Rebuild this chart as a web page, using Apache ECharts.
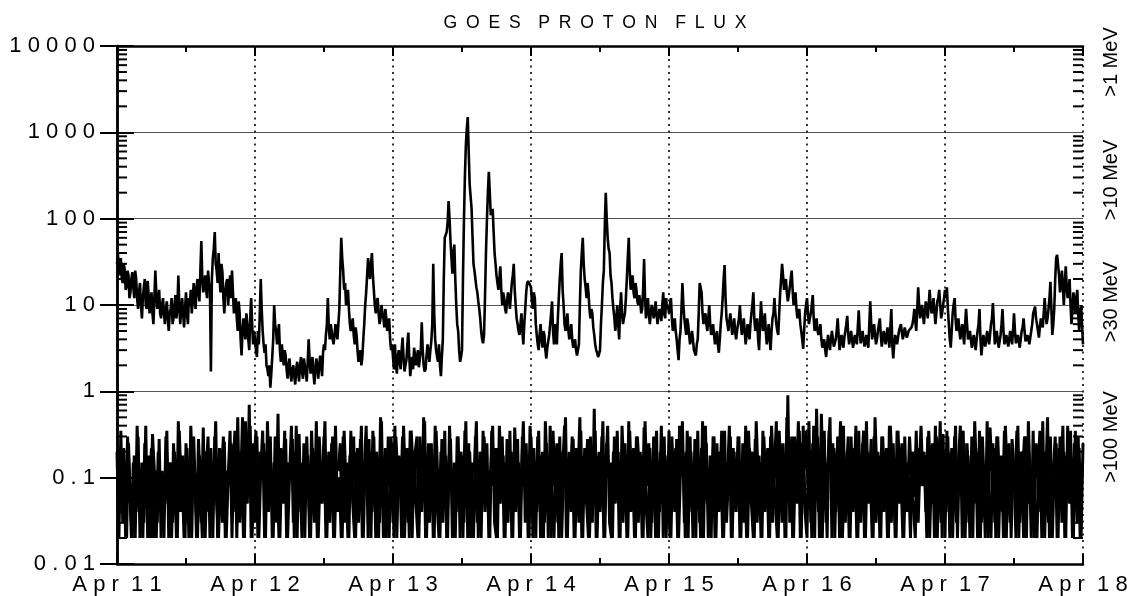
<!DOCTYPE html>
<html>
<head>
<meta charset="utf-8">
<script src="https://cdn.jsdelivr.net/npm/echarts@6/dist/echarts.min.js"></script>
<style>
html,body{margin:0;padding:0;background:#fff;}
#chart{width:1131px;height:596px;}
</style>
</head>
<body>
<div id="chart"></div>
<script>
// ---- data (time step = 20 min, starting Apr 11 00:00; "B" arrays sit half a step later) ----
const stepHours = 1 / 3;
const dayLabels = ["A p r  1 1", "A p r  1 2", "A p r  1 3", "A p r  1 4", "A p r  1 5", "A p r  1 6", "A p r  1 7", "A p r  1 8"];
const yTickLabels = {"-2": "0 . 0 1", "-1": "0 . 1", "0": "1", "1": "1 0", "2": "1 0 0", "3": "1 0 0 0", "4": "1 0 0 0 0"};
const channelLabels = [">1 MeV", ">10 MeV", ">30 MeV", ">100 MeV"];
const titleText = "G\u2002O\u2002E\u2002S\u2002\u2002P\u2002R\u2002O\u2002T\u2002O\u2002N\u2002\u2002F\u2002L\u2002U\u2002X";

const upperApr11 = [30,22,35,18,26,16,22,14,24,12,20,9,18,7,16,10,19,8,14,6,25,9,15,7,12,6,11,5,9,6,10,7,22,6,12,5.5,14,6,10,8,18,9,20,11,55,14,22,12,18,1.7,35,70,25,40,14,24,8,18,10,22,25,8,12,5,8,2.6,7,4,6,3,12,3.5];
const upperApr12 = [4,2.5,3.5,20,5,2.8,2,1.5,1.1,2.5,10,5,4.5,3,3.5,2,2.6,1.4,2.4,1.3,2,1.2,2.2,1.3,2.5,1.4,2,1.3,4,1.6,2.5,1.2,2.4,1.4,2.6,1.5,3.5,4.5,12,4,5,3.5,6,4,9,60,25,18,12,9,5,7,3.5,4.5,2.2,3,2.5,6,14,35,20,40,15,8,12,6,10,7,9,5,7,3];
const upperApr13 = [2.5,3.5,1.6,3,1.8,4.2,1.7,2.3,4.8,1.5,2.5,3.2,2,3,2.4,6.3,2,1.8,3.5,2.2,3.8,30,4,2.5,3.5,1.5,4,60,70,160,55,23,50,10,5,2.2,3,90,700,1500,250,130,30,20,14,9,5,3.6,12,95,350,110,130,40,22,15,28,10,12,8,14,9,18,30,10,6,4.5,8,3.5,9,18,20];
const upperApr14 = [16,9,12,4.5,3,6,3.2,4.5,2.4,3.8,6,11,3.5,4.5,7,20,40,10,5,8,4,6,3.2,4,2.6,3.5,25,60,20,12,14,7,8,4.5,3,2.5,3,10,25,200,60,40,18,9,5,10,4,14,6,8,20,60,15,22,12,15,10,11,9,34,7,12,6,10,7,11,6,9,6.5,14,7,9];
const upperApr15 = [8,12,5,7,4,2.3,5,18,7,4.5,6,3.5,5,3,2.6,4,18,14,6,8,5,10,4.5,6,3.5,5,2.8,6,12,29,7,5,8,4.5,7,4,6,10,4.5,7,3.5,6,4,8,14,5,7,3,11,5,8,3.5,6,3,7,12,6,4.5,14,30,15,20,11,16,25,10,14,7,9,5,3.1,8];
const upperApr16 = [12,6,8,13,5,7,4.5,6,3.2,4,2.5,4.5,3,5,3.3,4,7,3,4.5,3.2,5,7.5,3.5,5,3.2,4.5,3.5,8.7,3.6,5,3.3,4.5,3.2,11,4,6,3.5,5,7,3.3,5,3.5,5.5,3.2,9,2.4,4.5,3.5,5,6,4,5.5,4.2,5,4.8,6,9,5,16,7,10,6,11,7,15,8,12,6,11,15,7,10];
const upperApr17 = [15,16,6,3.2,8,12,5,7,4,6,3.5,9,4,5,3.2,4.5,3,5,9,2.6,4.5,3.3,5,3.5,6,10.5,3.5,5,3.2,4.5,9,3.5,4.5,3.3,5,3.5,8,3.6,4.5,3.2,5,7,3.8,4.5,3.5,5,8,9.6,6,4.2,7,5.5,12,6,9,18.6,4.5,9,35,40,14,25,10,28,12,20,6,14,8,15,5,10,3.5];

const upperBApr11 = [40,28,20,30,15,25,12,20,16,25,12,14,10,12,20,9,13,11,8,12,14,11,8,10,8,9,7,8,12,7,13,9,10,9,8,9,8,12,15,11,12,16,14,25,20,18,15,25,15,20,45,30,18,20,30,12,14,20,15,12,14,10,7,11,4,5,5,8,4,7,6,5];
const upperBApr12 = [3,5,8,9,3.5,3.5,1.8,2,1.6,4,6,3.5,6,2.2,2.5,3,1.8,2,1.6,1.8,1.5,1.8,1.6,2,1.7,2.4,1.6,2.2,2.3,2,1.6,1.8,1.9,2,2,2.8,3,6,5.5,6,4,4.5,5,6,25,35,15,10,15,6,6,4.5,5.5,3,2.5,2,4,10,22,25,30,22,10,11,8,7,8,5.5,7,6,4,3.5];
const upperBApr13 = [1.8,2.2,2.5,2.2,3,2.5,2,3.5,2.5,2,1.8,2.6,2.4,1.9,3,3,1.7,2.6,2.8,3,6,8,3,2.2,2,2.5,20,65,90,100,35,40,20,6,3,2.5,20,300,1100,600,180,60,25,16,11,7,4,4.5,40,200,200,120,70,30,18,20,15,14,9,11,12,13,22,15,7,5,6,5,6,14,19,17];
const upperBApr14 = [11,14,6,3.5,4.5,4,5,3,3.2,4.5,8,5,6,3.5,12,30,15,6,6.5,5,5,4,3.5,3,3,10,40,30,16,18,9,9,5.5,3.5,2.8,2.7,6,18,80,100,45,22,12,7,7,6,9,8,7,12,35,25,18,14,18,11,13,8,15,12,9,8,8,9,8,8,7.5,8,10,8,12,10];
const upperBApr15 = [10,7,6,5,3,4,9,10,5.5,7,4.5,4,4,2.8,3.5,8,16,8,7,6,7,6,5,4.5,4,3.5,4,8,20,12,6,6.5,6,5.5,5,5,7,6,5.5,5,4.5,5,6,10,7,6,4,6,7,6,5,4.5,4,5,8,8,5,8,20,22,18,14,13,20,15,12,9,8,6,4,5,10];
const upperBApr16 = [8,7,10,7,6,5,5,4,3.5,3,3.5,3.5,4,4,3.6,5,4.5,3.8,3.6,4.2,6,4.5,4.2,4,3.8,4,5.5,5,4.2,4,3.8,3.6,6,6,5,4.5,4,6,4.5,4,4.2,4.5,4,5.5,3.5,3.5,4,4.2,5.5,4.8,4.6,4.8,4.5,4.8,5.5,7,6.5,9,10,8,8,8.5,9,10,10,9,8.5,8,12,10,8,12];
const upperBApr17 = [12,9,4,5,10,7,6,5,5,4.5,6,6,4.5,4,3.8,3.6,4,6,4,3.5,3.8,4,4.2,4.5,7,6,4,4,3.8,6,5,4,3.8,4,4.2,5,5,4,3.8,4,5.5,5,4,4,4.2,6,8,7,5,5.5,6,8,8,7,12,9,6,20,38,22,18,16,18,16,15,10,9,11,12,8,7,6];

const lowerApr11 = [0.2,0.02,0.35,0.03,0.12,0.02,0.25,0.05,0.02,0.18,0.04,0.3,0.02,0.15,0.03,0.4,0.02,0.08,0.22,0.02,0.12,0.03,0.28,0.02,0.1,0.05,0.35,0.02,0.15,0.03,0.2,0.02,0.45,0.04,0.1,0.02,0.25,0.03,0.12,0.02,0.3,0.06,0.02,0.18,0.03,0.38,0.02,0.14,0.04,0.22,0.02,0.3,0.05,0.02,0.16,0.03,0.26,0.02,0.1,0.35,0.02,0.2,0.04,0.5,0.03,0.15,0.02,0.45,0.05,0.7,0.02,0.25];
const lowerApr12 = [0.03,0.3,0.02,0.12,0.35,0.02,0.2,0.04,0.3,0.02,0.15,0.03,0.55,0.02,0.18,0.05,0.28,0.02,0.1,0.4,0.03,0.2,0.02,0.32,0.04,0.15,0.02,0.3,0.06,0.02,0.22,0.03,0.45,0.02,0.12,0.05,0.3,0.02,0.18,0.03,0.25,0.02,0.4,0.04,0.1,0.02,0.3,0.03,0.15,0.02,0.35,0.05,0.02,0.2,0.03,0.28,0.02,0.12,0.4,0.02,0.2,0.04,0.3,0.02,0.15,0.03,0.45,0.02,0.22,0.05,0.02,0.3];
const lowerApr13 = [0.03,0.4,0.02,0.18,0.06,0.3,0.02,0.12,0.03,0.35,0.02,0.2,0.05,0.02,0.3,0.04,0.5,0.02,0.15,0.03,0.25,0.02,0.4,0.05,0.02,0.2,0.03,0.35,0.02,0.1,0.28,0.02,0.15,0.04,0.3,0.02,0.18,0.03,0.45,0.02,0.2,0.05,0.02,0.3,0.03,0.14,0.02,0.35,0.04,0.25,0.02,0.12,0.4,0.03,0.02,0.22,0.05,0.3,0.02,0.15,0.03,0.35,0.02,0.2,0.04,0.28,0.02,0.1,0.45,0.03,0.18,0.02];
const lowerApr14 = [0.3,0.02,0.15,0.04,0.35,0.02,0.2,0.03,0.25,0.02,0.4,0.05,0.02,0.18,0.03,0.3,0.02,0.12,0.5,0.02,0.2,0.04,0.28,0.02,0.15,0.03,0.35,0.02,0.22,0.05,0.02,0.3,0.03,0.63,0.02,0.18,0.04,0.3,0.02,0.12,0.4,0.03,0.02,0.2,0.05,0.35,0.02,0.15,0.03,0.25,0.02,0.45,0.04,0.15,0.02,0.3,0.03,0.2,0.02,0.38,0.05,0.02,0.22,0.03,0.3,0.02,0.14,0.04,0.4,0.02,0.18,0.03];
const lowerApr15 = [0.35,0.02,0.2,0.04,0.28,0.02,0.12,0.45,0.03,0.2,0.02,0.3,0.04,0.15,0.02,0.35,0.03,0.22,0.02,0.4,0.05,0.12,0.02,0.3,0.02,0.25,0.04,0.18,0.02,0.35,0.03,0.1,0.3,0.02,0.2,0.04,0.3,0.02,0.15,0.03,0.4,0.02,0.22,0.05,0.02,0.28,0.03,0.18,0.02,0.35,0.04,0.2,0.02,0.3,0.03,0.12,0.45,0.02,0.25,0.03,0.15,0.02,0.9,0.03,0.3,0.02,0.2,0.05,0.35,0.02,0.4,0.04];
const lowerApr16 = [0.02,0.45,0.03,0.25,0.02,0.63,0.04,0.2,0.02,0.35,0.03,0.15,0.5,0.02,0.22,0.04,0.3,0.02,0.12,0.4,0.03,0.2,0.02,0.3,0.04,0.18,0.02,0.35,0.03,0.25,0.02,0.45,0.05,0.12,0.02,0.3,0.03,0.2,0.02,0.3,0.04,0.15,0.02,0.4,0.03,0.25,0.02,0.35,0.05,0.12,0.02,0.3,0.04,0.1,0.02,0.2,0.06,0.35,0.03,0.15,0.08,0.2,0.04,0.3,0.02,0.15,0.05,0.4,0.02,0.22,0.03,0.32];
const lowerApr17 = [0.02,0.35,0.04,0.2,0.02,0.3,0.03,0.15,0.4,0.02,0.25,0.03,0.18,0.02,0.3,0.05,0.22,0.02,0.35,0.03,0.12,0.02,0.45,0.04,0.02,0.25,0.03,0.3,0.02,0.15,0.04,0.35,0.02,0.2,0.03,0.28,0.12,0.02,0.4,0.03,0.2,0.02,0.3,0.05,0.15,0.02,0.35,0.03,0.02,0.22,0.04,0.45,0.02,0.18,0.03,0.3,0.02,0.12,0.25,0.02,0.3,0.03,0.2,0.02,0.4,0.05,0.15,0.02,0.35,0.03,0.22,0.02,0.25];

const lowerBApr11 = [0.02,0.12,0.08,0.22,0.02,0.3,0.1,0.02,0.15,0.02,0.4,0.08,0.08,0.02,0.25,0.08,0.18,0.02,0.32,0.12,0.02,0.2,0.08,0.12,0.02,0.3,0.1,0.15,0.02,0.25,0.06,0.02,0.35,0.08,0.18,0.02,0.22,0.02,0.4,0.1,0.12,0.02,0.28,0.08,0.02,0.2,0.12,0.3,0.02,0.15,0.08,0.45,0.02,0.22,0.1,0.3,0.02,0.12,0.08,0.25,0.1,0.35,0.02,0.2,0.08,0.5,0.02,0.3,0.06,0.4,0.02,0.15];
const lowerBApr12 = [0.35,0.02,0.2,0.1,0.25,0.02,0.45,0.08,0.12,0.02,0.3,0.12,0.02,0.22,0.08,0.35,0.02,0.15,0.1,0.28,0.02,0.4,0.08,0.1,0.02,0.25,0.12,0.18,0.02,0.35,0.08,0.2,0.02,0.3,0.1,0.12,0.45,0.02,0.2,0.08,0.3,0.02,0.15,0.12,0.25,0.02,0.35,0.08,0.02,0.18,0.1,0.3,0.02,0.22,0.08,0.4,0.02,0.15,0.12,0.28,0.02,0.35,0.08,0.2,0.02,0.5,0.1,0.12,0.02,0.3,0.08,0.25];
const lowerBApr13 = [0.02,0.3,0.1,0.15,0.02,0.4,0.08,0.22,0.02,0.35,0.12,0.12,0.3,0.02,0.2,0.08,0.45,0.02,0.25,0.1,0.15,0.02,0.35,0.08,0.02,0.28,0.12,0.18,0.02,0.4,0.08,0.12,0.02,0.3,0.1,0.2,0.02,0.35,0.08,0.25,0.02,0.15,0.12,0.45,0.02,0.2,0.08,0.3,0.1,0.12,0.02,0.35,0.08,0.22,0.02,0.4,0.12,0.18,0.02,0.28,0.08,0.2,0.02,0.38,0.1,0.15,0.02,0.3,0.08,0.25,0.02,0.4];
const lowerBApr14 = [0.12,0.22,0.02,0.3,0.08,0.18,0.02,0.45,0.1,0.12,0.02,0.35,0.08,0.25,0.02,0.2,0.12,0.4,0.02,0.15,0.08,0.3,0.02,0.22,0.1,0.5,0.02,0.18,0.08,0.28,0.02,0.12,0.1,0.35,0.02,0.2,0.08,0.45,0.02,0.25,0.12,0.15,0.02,0.3,0.08,0.2,0.02,0.4,0.1,0.12,0.02,0.35,0.08,0.22,0.02,0.3,0.12,0.18,0.02,0.45,0.08,0.25,0.02,0.15,0.1,0.35,0.02,0.2,0.08,0.3,0.02,0.12];
const lowerBApr15 = [0.02,0.3,0.08,0.22,0.02,0.4,0.12,0.15,0.02,0.35,0.08,0.2,0.02,0.28,0.1,0.12,0.02,0.45,0.08,0.25,0.02,0.18,0.12,0.3,0.02,0.2,0.08,0.35,0.02,0.15,0.1,0.4,0.02,0.22,0.08,0.12,0.3,0.02,0.25,0.12,0.02,0.35,0.08,0.2,0.02,0.45,0.1,0.15,0.02,0.3,0.08,0.22,0.02,0.4,0.12,0.12,0.02,0.35,0.08,0.25,0.02,0.5,0.1,0.2,0.02,0.3,0.08,0.45,0.02,0.25,0.12,0.35];
const lowerBApr16 = [0.08,0.2,0.02,0.4,0.1,0.3,0.02,0.55,0.08,0.15,0.02,0.35,0.12,0.25,0.02,0.2,0.08,0.45,0.02,0.12,0.1,0.3,0.02,0.22,0.08,0.4,0.02,0.15,0.12,0.35,0.02,0.2,0.08,0.28,0.02,0.5,0.1,0.18,0.02,0.3,0.08,0.22,0.02,0.4,0.12,0.12,0.02,0.35,0.08,0.25,0.02,0.15,0.06,0.3,0.1,0.1,0.02,0.22,0.12,0.4,0.08,0.18,0.02,0.35,0.1,0.25,0.02,0.3,0.08,0.45,0.02,0.2];
const lowerBApr17 = [0.1,0.3,0.02,0.22,0.08,0.4,0.02,0.18,0.12,0.35,0.02,0.25,0.08,0.15,0.02,0.45,0.1,0.2,0.02,0.3,0.08,0.12,0.02,0.38,0.12,0.22,0.02,0.3,0.08,0.18,0.02,0.4,0.1,0.25,0.02,0.15,0.08,0.35,0.02,0.2,0.12,0.3,0.02,0.45,0.08,0.12,0.02,0.25,0.1,0.35,0.02,0.2,0.08,0.5,0.02,0.15,0.12,0.3,0.02,0.22,0.08,0.4,0.02,0.18,0.1,0.35,0.02,0.25,0.08,0.3,0.02,0.15];

// ---- build series data ----
const upperA = [].concat(upperApr11, upperApr12, upperApr13, upperApr14, upperApr15, upperApr16, upperApr17);
const upperB = [].concat(upperBApr11, upperBApr12, upperBApr13, upperBApr14, upperBApr15, upperBApr16, upperBApr17);
const lowerA = [].concat(lowerApr11, lowerApr12, lowerApr13, lowerApr14, lowerApr15, lowerApr16, lowerApr17);
const lowerB = [].concat(lowerBApr11, lowerBApr12, lowerBApr13, lowerBApr14, lowerBApr15, lowerBApr16, lowerBApr17);

function interleave(a, b) {
  const out = [];
  for (let i = 0; i < a.length; i++) {
    out.push([i * stepHours, a[i]]);
    if (i < b.length) out.push([(i + 0.5) * stepHours, b[i]]);
  }
  return out;
}
const upperData = interleave(upperA, upperB);
const lowerData = lowerA.map((v, i) => [i * stepHours, v]);
const lowerBData = lowerB.map((v, i) => [(i + 0.5) * stepHours, v]);

const minorVals = [];
for (let e = -2; e < 4; e++) for (let m = 2; m <= 9; m++) minorVals.push([0, m * Math.pow(10, e)]);

const FONT = '"Liberation Sans", Arial, Helvetica, sans-serif';
const X_MAX = 168;

const chart = echarts.init(document.getElementById('chart'), null, {renderer: 'canvas'});
const axisLineStyle = {color: '#000', width: 2.5};

chart.setOption({
  animation: false,
  backgroundColor: '#fff',
  textStyle: {fontFamily: FONT, color: '#000'},
  title: {
    text: titleText, left: 590, top: 9, textAlign: 'center',
    textStyle: {fontFamily: FONT, fontSize: 17.6, fontWeight: 'normal', color: '#000'}
  },
  grid: {left: 117, right: 48, top: 46, bottom: 32},
  xAxis: [{
    type: 'value', min: 0, max: X_MAX, interval: 24, position: 'bottom',
    axisLine: {lineStyle: axisLineStyle},
    axisTick: {inside: true, length: 10, lineStyle: {color: '#000', width: 2}},
    minorTick: {show: true, splitNumber: 2, length: 6, lineStyle: {color: '#000', width: 2}},
    axisLabel: {
      margin: 10, fontSize: 22, color: '#000', fontFamily: FONT,
      formatter: v => dayLabels[Math.round(v / 24)]
    },
    splitLine: {show: true, lineStyle: {color: '#000', width: 1.6, type: [2, 4.5]}}
  }, {
    type: 'value', min: 0, max: X_MAX, interval: 24, position: 'top',
    axisLine: {lineStyle: axisLineStyle},
    axisTick: {inside: true, length: 10, lineStyle: {color: '#000', width: 2}},
    minorTick: {show: true, splitNumber: 2, length: 6, lineStyle: {color: '#000', width: 2}},
    axisLabel: {show: false}, splitLine: {show: false}
  }],
  yAxis: [{
    type: 'log', logBase: 10, min: 0.01, max: 10000, position: 'left',
    axisLine: {lineStyle: axisLineStyle},
    axisTick: {inside: true, length: 17, lineStyle: {color: '#000', width: 2}},
    axisLabel: {
      margin: 22, fontSize: 22, color: '#000', fontFamily: FONT,
      formatter: v => yTickLabels[String(Math.round(Math.log10(v)))]
    },
    splitLine: {show: true, lineStyle: {color: '#555', width: 1}}
  }, {
    type: 'log', logBase: 10, min: 0.01, max: 10000, position: 'right',
    axisLine: {lineStyle: axisLineStyle},
    axisTick: {inside: true, length: 17, lineStyle: {color: '#000', width: 2}},
    axisLabel: {show: false}, splitLine: {show: false}
  }],
  graphic: channelLabels.map((t, i) => ({
    type: 'text',
    x: 1111, y: [62, 180, 302, 437][i],
    rotation: Math.PI / 2,
    style: {text: t, fill: '#000', fontSize: 20, fontFamily: FONT,
            textAlign: 'center', textVerticalAlign: 'middle', align: 'center', verticalAlign: 'middle'}
  })),
  series: [{
    type: 'line', data: lowerData, showSymbol: false, symbol: 'none',
    lineStyle: {color: '#000', width: 3, join: 'bevel'}, z: 3
  }, {
    type: 'line', data: lowerBData, showSymbol: false, symbol: 'none',
    lineStyle: {color: '#000', width: 3, join: 'bevel'}, z: 3
  }, {
    type: 'line', data: upperData, showSymbol: false, symbol: 'none',
    lineStyle: {color: '#000', width: 2.6}, z: 4
  }, {
    type: 'custom', data: minorVals, clip: false, silent: true, z: 5,
    renderItem: function (params, api) {
      const v = api.value(1);
      const pl = api.coord([0, v]);
      const pr = api.coord([X_MAX, v]);
      return {
        type: 'group', children: [
          {type: 'line', shape: {x1: pl[0], y1: pl[1], x2: pl[0] + 10, y2: pl[1]}, style: {stroke: '#000', lineWidth: 2}},
          {type: 'line', shape: {x1: pr[0] - 10, y1: pr[1], x2: pr[0], y2: pr[1]}, style: {stroke: '#000', lineWidth: 2}}
        ]
      };
    }
  }]
});
</script>
</body>
</html>
